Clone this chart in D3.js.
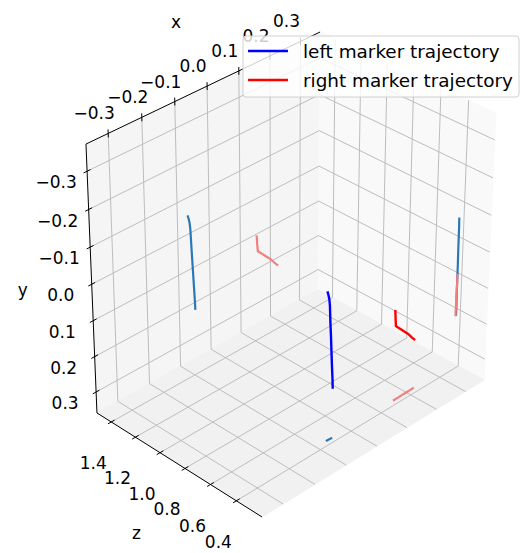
<!DOCTYPE html>
<html>
<head>
<meta charset="utf-8">
<script src="https://cdn.jsdelivr.net/npm/d3@7"></script>
<style>
body { margin: 0; background: #fff; }
text { font-family: "DejaVu Sans", sans-serif; fill: #000; }
</style>
</head>
<body>
<script>
var width = 521,
    height = 553;

// tick values for the three axes
var xTicks = [-0.3, -0.2, -0.1, 0.0, 0.1, 0.2, 0.3];
var yTicks = [-0.3, -0.2, -0.1, 0.0, 0.1, 0.2, 0.3];
var zTicks = [0.4, 0.6, 0.8, 1.0, 1.2, 1.4];

// left marker trajectory
var leftX = [-0.068, -0.065, -0.062, -0.060, -0.058, -0.056, -0.054, -0.052, -0.050, -0.049];
var leftY = [-0.052, -0.042, -0.028, -0.010, 0.035, 0.075, 0.115, 0.155, 0.195, 0.222];
var leftZ = [0.434, 0.434, 0.433, 0.433, 0.433, 0.432, 0.432, 0.432, 0.431, 0.431];

// right marker trajectory
var rightX = [0.154, 0.155, 0.156, 0.158, 0.171, 0.186, 0.201, 0.214, 0.226];
var rightY = [0.104, 0.116, 0.131, 0.151, 0.164, 0.179, 0.194, 0.210, 0.224];
var rightZ = [0.432, 0.432, 0.432, 0.433, 0.433, 0.434, 0.434, 0.435, 0.435];

var seriesNames = ["left marker trajectory", "right marker trajectory"];
var seriesColors = ["blue", "red"];
var shadowColors = ["#2a78b6", "#f27e7e"];

// data -> unit cube
var x = d3.scaleLinear().domain([-0.365, 0.365]).range([0, 1]);
var y = d3.scaleLinear().domain([-0.37, 0.36]).range([0, 1]);
var z = d3.scaleLinear().domain([0.205, 1.52]).range([0, 1]);

/* cube corners (u,v,w) and where they land on screen;
   a perspective camera is fitted to them */
var corners = [
    [0, 0, 1, 86, 144],
    [0, 1, 1, 97, 413],
    [0, 1, 0, 262, 517],
    [1, 1, 0, 484, 380],
    [1, 0, 0, 496, 113],
    [1, 0, 1, 320, 32]
];

function solve(M, b) {
    var n = b.length, i, j, k;
    var a = M.map(function(r, i) { return r.concat([b[i]]); });
    for (i = 0; i < n; i++) {
	var p = i;
	for (k = i + 1; k < n; k++) if (Math.abs(a[k][i]) > Math.abs(a[p][i])) p = k;
	var t = a[i]; a[i] = a[p]; a[p] = t;
	for (k = i + 1; k < n; k++) {
	    var f = a[k][i] / a[i][i];
	    for (j = i; j <= n; j++) a[k][j] -= f * a[i][j];
	}
    }
    var out = new Array(n);
    for (i = n - 1; i >= 0; i--) {
	var s = a[i][n];
	for (j = i + 1; j < n; j++) s -= a[i][j] * out[j];
	out[i] = s / a[i][i];
    }
    return out;
}

var rows = [], rhs = [];
corners.forEach(function(c) {
    var u = c[0], v = c[1], w = c[2], sx = c[3], sy = c[4];
    rows.push([u, v, w, 1, 0, 0, 0, 0, -sx*u, -sx*v, -sx*w]); rhs.push(sx);
    rows.push([0, 0, 0, 0, u, v, w, 1, -sy*u, -sy*v, -sy*w]); rhs.push(sy);
});
var AtA = [], Atb = [];
for (var i = 0; i < 11; i++) {
    AtA.push([]);
    var s = 0;
    for (var r = 0; r < rows.length; r++) s += rows[r][i] * rhs[r];
    Atb.push(s);
    for (var j = 0; j < 11; j++) {
	var t = 0;
	for (var r2 = 0; r2 < rows.length; r2++) t += rows[r2][i] * rows[r2][j];
	AtA[i].push(t);
    }
}
var P = solve(AtA, Atb);

function proj(u, v, w) {
    var d = P[8]*u + P[9]*v + P[10]*w + 1;
    return [(P[0]*u + P[1]*v + P[2]*w + P[3]) / d,
	    (P[4]*u + P[5]*v + P[6]*w + P[7]) / d];
}

var svg = d3.select('body').append('svg')
    .attr('width', width)
    .attr('height', height);

var line = d3.line();

/* back panes */
var panes = [
    {pts: [[0,0,1],[1,0,1],[1,1,1],[0,1,1]], fill: '#f5f5f5'},
    {pts: [[1,0,0],[1,0,1],[1,1,1],[1,1,0]], fill: '#f9f9f9'},
    {pts: [[0,1,0],[1,1,0],[1,1,1],[0,1,1]], fill: '#f1f1f1'}
];
svg.selectAll('path.pane')
    .data(panes)
    .enter().append('path')
    .attr('class', 'pane')
    .attr('d', function(p) { return line(p.pts.map(function(q) { return proj(q[0], q[1], q[2]); })) + 'Z'; })
    .style('fill', function(p) { return p.fill; })
    .style('stroke', function(p) { return p.fill; });

/* grid lines on the panes */
var grid = [];
xTicks.forEach(function(t) {
    var u = x(t);
    grid.push([[u,0,1],[u,1,1]]);
    grid.push([[u,1,0],[u,1,1]]);
});
yTicks.forEach(function(t) {
    var v = y(t);
    grid.push([[0,v,1],[1,v,1]]);
    grid.push([[1,v,0],[1,v,1]]);
});
zTicks.forEach(function(t) {
    var w = z(t);
    grid.push([[1,0,w],[1,1,w]]);
    grid.push([[0,1,w],[1,1,w]]);
});
svg.selectAll('path.grid')
    .data(grid)
    .enter().append('path')
    .attr('class', 'grid')
    .attr('d', function(g) { return line(g.map(function(q) { return proj(q[0], q[1], q[2]); })); })
    .style('stroke', '#bdbdbd')
    .style('stroke-width', 1)
    .style('fill', 'none');

/* axis lines */
var axes = [
    [[0,0,1],[1,0,1]],
    [[0,0,1],[0,1,1]],
    [[0,1,0],[0,1,1]]
];
svg.selectAll('path.axis')
    .data(axes)
    .enter().append('path')
    .attr('class', 'axis')
    .attr('d', function(g) { return line(g.map(function(q) { return proj(q[0], q[1], q[2]); })); })
    .style('stroke', '#000')
    .style('stroke-width', 1)
    .style('fill', 'none');

var fmt = d3.format('.1f');
var tk = 0.014;

function drawTicks(vals, cls, seg, at, off) {
    svg.selectAll('path.' + cls)
	.data(vals)
	.enter().append('path')
	.attr('class', cls)
	.attr('d', function(t) { return line(seg(t).map(function(q) { return proj(q[0], q[1], q[2]); })); })
	.style('stroke', '#000')
	.style('stroke-width', 1);
    svg.selectAll('text.' + cls)
	.data(vals)
	.enter().append('text')
	.attr('class', cls)
	.attr('x', function(t) { return at(t)[0] + off[0]; })
	.attr('y', function(t) { return at(t)[1] + off[1]; })
	.attr('text-anchor', 'middle')
	.attr('dominant-baseline', 'central')
	.style('font-size', '17px')
	.text(fmt);
}

drawTicks(xTicks, 'xt',
	  function(t) { return [[x(t), -tk, 1], [x(t), tk, 1]]; },
	  function(t) { return proj(x(t), 0, 1); }, [-14, -20]);
drawTicks(yTicks, 'yt',
	  function(t) { return [[-tk, y(t), 1], [tk, y(t), 1]]; },
	  function(t) { return proj(0, y(t), 1); }, [-31, 11]);
drawTicks(zTicks, 'zt',
	  function(t) { return [[-tk, 1, z(t)], [tk, 1, z(t)]]; },
	  function(t) { return proj(0, 1, z(t)); }, [-18, 41]);

/* axis titles */
var titles = [
    {t: 'x', p: proj(x(0), 0, 1), o: [-31, -64]},
    {t: 'y', p: proj(0, y(0), 1), o: [-69, 6]},
    {t: 'z', p: proj(0, 1, z(0.9)), o: [-36, 72]}
];
svg.selectAll('text.title')
    .data(titles)
    .enter().append('text')
    .attr('class', 'title')
    .attr('x', function(d) { return d.p[0] + d.o[0]; })
    .attr('y', function(d) { return d.p[1] + d.o[1]; })
    .attr('text-anchor', 'middle')
    .attr('dominant-baseline', 'central')
    .style('font-size', '17px')
    .text(function(d) { return d.t; });

/* trajectories and their shadows on the three panes */
var series = [
    {xs: leftX, ys: leftY, zs: leftZ},
    {xs: rightX, ys: rightY, zs: rightZ}
];

function pathOf(s, mode) {
    return line(s.xs.map(function(v, i) {
	var u = x(v), vv = y(s.ys[i]), w = z(s.zs[i]);
	if (mode === 'zwall') w = 1;
	if (mode === 'xwall') u = 1;
	if (mode === 'floor') vv = 1;
	return proj(u, vv, w);
    }));
}

['zwall', 'xwall', 'floor'].forEach(function(mode) {
    series.forEach(function(s, i) {
	svg.append('path')
	    .attr('d', pathOf(s, mode))
	    .style('fill', 'none')
	    .style('stroke', shadowColors[i])
	    .style('stroke-width', 2.2)
	    .style('stroke-linecap', 'butt');
    });
});

series.forEach(function(s, i) {
    svg.append('path')
	.attr('d', pathOf(s, 'data'))
	.style('fill', 'none')
	.style('stroke', seriesColors[i])
	.style('stroke-width', 2.4);
});

/* legend */
var legend = svg.append('g').attr('transform', 'translate(243,36)');
legend.append('rect')
    .attr('width', 276)
    .attr('height', 61)
    .attr('rx', 3)
    .style('fill', '#fff')
    .style('fill-opacity', 0.8)
    .style('stroke', '#d0d0d0')
    .style('stroke-width', 1);
var item = legend.selectAll('g.item')
    .data(seriesNames)
    .enter().append('g')
    .attr('class', 'item')
    .attr('transform', function(d, i) { return 'translate(0,' + (15 + i * 29) + ')'; });
item.append('line')
    .attr('x1', 5).attr('x2', 45)
    .style('stroke', function(d, i) { return seriesColors[i]; })
    .style('stroke-width', 2.4);
item.append('text')
    .attr('x', 60)
    .attr('dominant-baseline', 'central')
    .style('font-size', '18.4px')
    .text(function(d) { return d; });
</script>
</body>
</html>
